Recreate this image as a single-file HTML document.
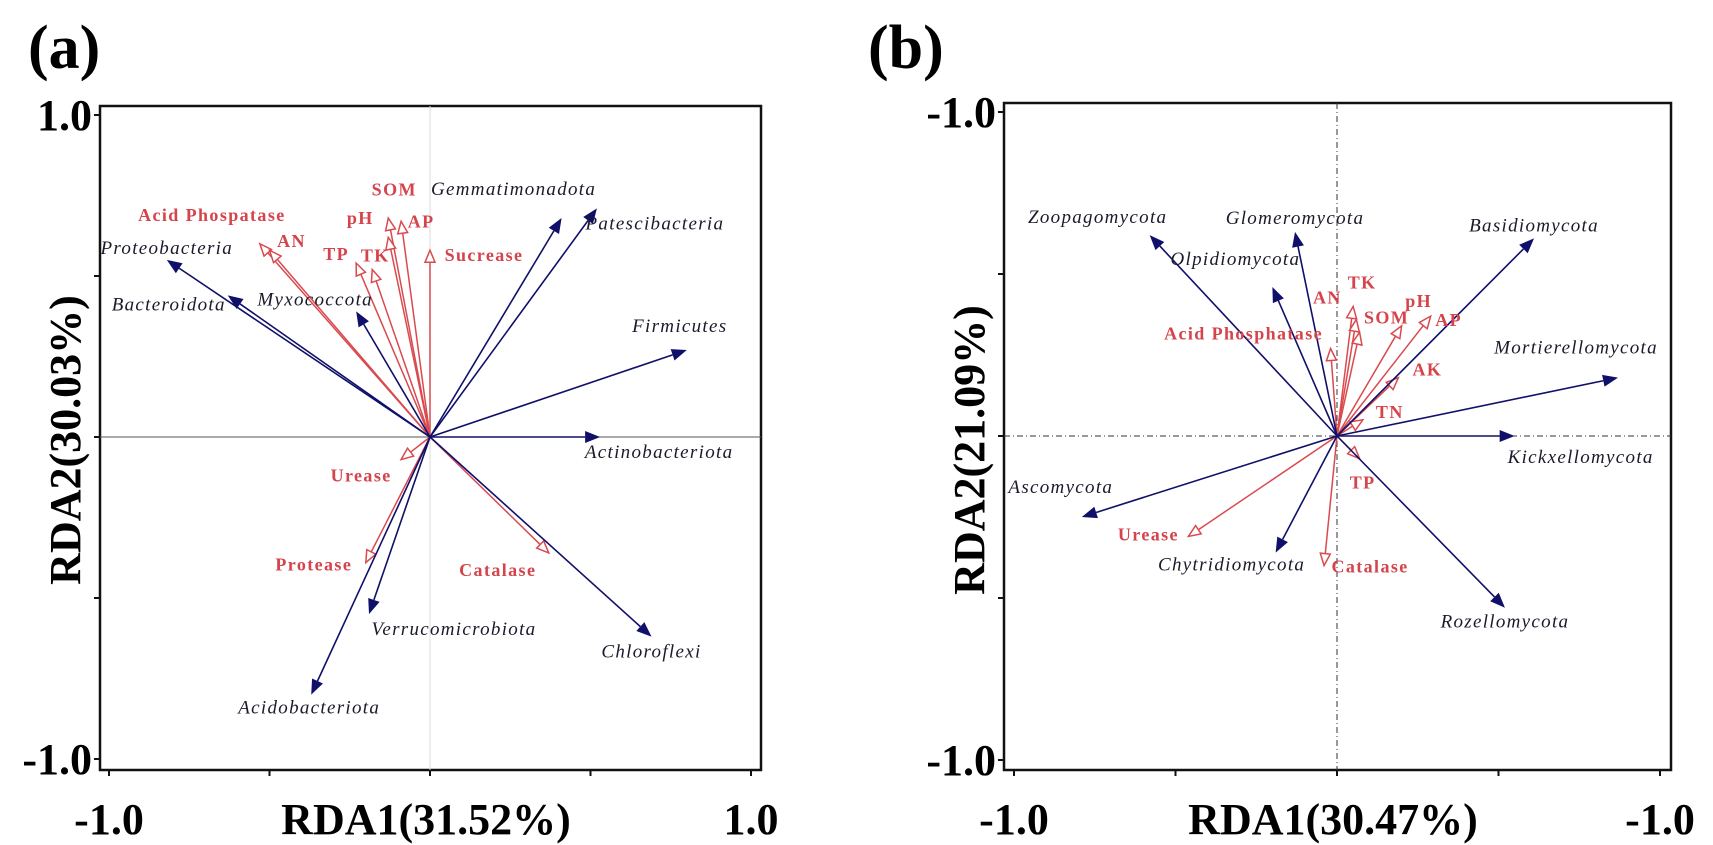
<!DOCTYPE html>
<html><head><meta charset="utf-8"><style>
html,body{margin:0;padding:0;background:#fff;}
svg{display:block;}
.sp{font-family:"Liberation Serif",serif;font-style:italic;font-size:19px;letter-spacing:1.3px;fill:#1a1a2a;}
.ev{font-family:"Liberation Serif",serif;font-weight:bold;font-size:18px;letter-spacing:1.4px;fill:#d5434b;}
.big{font-family:"Liberation Serif",serif;font-weight:bold;fill:#000;}
</style></head><body>
<svg id="chart" width="1713" height="845" viewBox="0 0 1713 845" xmlns="http://www.w3.org/2000/svg">
<text class="big" x="28" y="68" font-size="62">(a)</text>
<text class="big" x="868" y="68" font-size="62">(b)</text>
<g id="pa"></g>
<g id="pb"></g>
</svg>
<script>
// Panel (a) data
const aSpecies = ["Proteobacteria","Bacteroidota","Myxococcota","Gemmatimonadota","Patescibacteria","Firmicutes","Actinobacteriota","Chloroflexi","Verrucomicrobiota","Acidobacteriota"];
const aSpX = [-0.82,-0.63,-0.23,0.41,0.52,0.80,0.53,0.69,-0.19,-0.37];
const aSpY = [0.55,0.44,0.39,0.68,0.71,0.27,0.0,-0.62,-0.55,-0.80];
const aEnv = ["Acid Phospatase","AN","TP","TK","pH","AP","SOM","Sucrease","Urease","Protease","Catalase"];
const aEnvX = [-0.53,-0.50,-0.23,-0.18,-0.13,-0.09,-0.13,0.0,-0.09,-0.20,0.37];
const aEnvY = [0.60,0.58,0.54,0.52,0.68,0.67,0.62,0.58,-0.07,-0.39,-0.36];
// Panel (b) data
const bSpecies = ["Zoopagomycota","Glomeromycota","Olpidiomycota","Basidiomycota","Mortierellomycota","Kickxellomycota","Rozellomycota","Chytridiomycota","Ascomycota"];
const bSpX = [-0.58,-0.13,-0.20,0.61,0.87,0.55,0.52,-0.19,-0.79];
const bSpY = [0.62,0.63,0.46,0.61,0.18,0.0,-0.53,-0.36,-0.25];
const bEnv = ["Acid Phosphatase","TK","AN","SOM","pH","AP","AK","TN","TP","Catalase","Urease"];
const bEnvX = [-0.02,0.05,0.06,0.07,0.20,0.29,0.19,0.08,0.07,-0.04,-0.46];
const bEnvY = [0.27,0.40,0.36,0.32,0.34,0.37,0.18,0.05,-0.07,-0.40,-0.31];
const aTicksY = ["1.0","-1.0"], aTicksX = ["-1.0","1.0"];
const bTicksY = ["-1.0","-1.0"], bTicksX = ["-1.0","-1.0"];

// label layout offsets (px, relative to tip; text centered)
const aSpOff = [[0,-12],[-59,9],[-41,-12],[-48,-29],[58,15],[-7,-24],[59,15],[0,15],[85,15],[-2,13]];
const aEnvOff = [[-48,-29],[22,-9],[-20,-9],[3,-14],[-28,0],[20,0],[6,-48],[54,5],[-40,16],[-52,2],[-51,17]];
const bSpOff = [[-52,-18],[0,-14],[-37,-28],[0,-13],[-42,-30],[66,21],[0,14],[-44,12],[-21,-30]];
const bEnvOff = [[-87,-15],[9,-24],[-29,-22],[27,-15],[17,-25],[18,4],[29,-8],[27,-8],[3,24],[46,1],[-40,-2]];

const NS="http://www.w3.org/2000/svg";
function mk(tag,attrs,parent){const e=document.createElementNS(NS,tag);for(const k in attrs)e.setAttribute(k,attrs[k]);parent.appendChild(e);return e;}

function panel(g,P,sp,spx,spy,spOff,env,envx,envy,envOff,tY,tX,xtitle,ytitle,dashed){
  const X=v=>P.cx+v*P.ux, Y=v=>P.cy-v*P.uy;
  const fr=mk('rect',{x:P.l,y:P.t,width:P.r-P.l,height:P.b-P.t,fill:'none',stroke:'#111','stroke-width':2.5},g);
  
  
  const ah=mk('line',{x1:P.l,y1:P.cy,x2:P.r,y2:P.cy,stroke:dashed?'#333':'#555','stroke-width':1,'stroke-dasharray':dashed?'6,3,1,3':'none'},g);
  
  
  const av=mk('line',{x1:P.cx,y1:P.t,x2:P.cx,y2:P.b,stroke:dashed?'#333':'#ddd','stroke-width':1,'stroke-dasharray':dashed?'6,3,1,3':'none'},g);
  
  
  [-1,-0.5,0,0.5,1].forEach(v=>{
    const t1=mk('line',{x1:X(v),y1:P.b,x2:X(v),y2:P.b+6,stroke:'#111','stroke-width':2},g);
    
    
    const t2=mk('line',{x1:P.l-6,y1:Y(v),x2:P.l,y2:Y(v),stroke:'#111','stroke-width':2},g);
    
    
  });
  [[tY[0],Y(1)],[tY[1],Y(-1)]].forEach(([s,y])=>{
    const t=mk('text',{x:P.l-8,y:y+15,'text-anchor':'end','font-size':44,class:'big'},g);t.textContent=s;
    
    
  });
  [[tX[0],X(-1)],[tX[1],X(1)]].forEach(([s,x])=>{
    const t=mk('text',{x:x,y:834,'text-anchor':'middle','font-size':44,class:'big'},g);t.textContent=s;
    
    
  });
  const xt=mk('text',{x:P.cx-4,y:834,'text-anchor':'middle','font-size':44,class:'big'},g);xt.textContent=xtitle;
  
  
  const yt=mk('text',{x:0,y:0,'text-anchor':'middle','font-size':44,class:'big',transform:`translate(${P.yx},${P.yy}) rotate(-90)`},g);yt.textContent=ytitle;
  
  
  env.forEach((n,i)=>{
    const x=X(envx[i]),y=Y(envy[i]);const dx=x-P.cx,dy=y-P.cy,L=Math.hypot(dx,dy)||1,ux=dx/L,uy=dy/L;
    const hl=12,hw=5,bx=x-ux*hl,by=y-uy*hl;
    const ln=mk('line',{x1:P.cx,y1:P.cy,x2:bx,y2:by,stroke:'#d94a4f','stroke-width':1.5},g);
    
    
    const hd=mk('polygon',{points:`${x},${y} ${bx-uy*hw},${by+ux*hw} ${bx+uy*hw},${by-ux*hw}`,fill:'#fff',stroke:'#d94a4f','stroke-width':1.5},g);
    
    
  });
  sp.forEach((n,i)=>{
    const x=X(spx[i]),y=Y(spy[i]);const dx=x-P.cx,dy=y-P.cy,L=Math.hypot(dx,dy)||1,ux=dx/L,uy=dy/L;
    const hl=15,hw=6,bx=x-ux*hl,by=y-uy*hl;
    const ln=mk('line',{x1:P.cx,y1:P.cy,x2:bx,y2:by,stroke:'#10106a','stroke-width':1.6},g);
    
    
    const hd=mk('polygon',{points:`${x},${y} ${bx-uy*hw},${by+ux*hw} ${bx+uy*hw},${by-ux*hw}`,fill:'#10106a'},g);
    
    
  });
  env.forEach((n,i)=>{
    const t=mk('text',{x:X(envx[i])+envOff[i][0],y:Y(envy[i])+envOff[i][1]+6,'text-anchor':'middle',class:'ev'},g);t.textContent=n;
    
    
  });
  sp.forEach((n,i)=>{
    const t=mk('text',{x:X(spx[i])+spOff[i][0],y:Y(spy[i])+spOff[i][1]+6,'text-anchor':'middle',class:'sp'},g);t.textContent=n;
    
    
  });
}
panel(document.getElementById('pa'),{l:100,r:761,t:106,b:770,cx:430,cy:437,ux:321,uy:322,yx:80,yy:440},
  aSpecies,aSpX,aSpY,aSpOff,aEnv,aEnvX,aEnvY,aEnvOff,aTicksY,aTicksX,"RDA1(31.52%)","RDA2(30.03%)",false);
panel(document.getElementById('pb'),{l:1004,r:1671,t:103,b:770,cx:1337,cy:436,ux:323,uy:324,yx:984,yy:450},
  bSpecies,bSpX,bSpY,bSpOff,bEnv,bEnvX,bEnvY,bEnvOff,bTicksY,bTicksX,"RDA1(30.47%)","RDA2(21.09%)",true);
</script>
</body></html>
